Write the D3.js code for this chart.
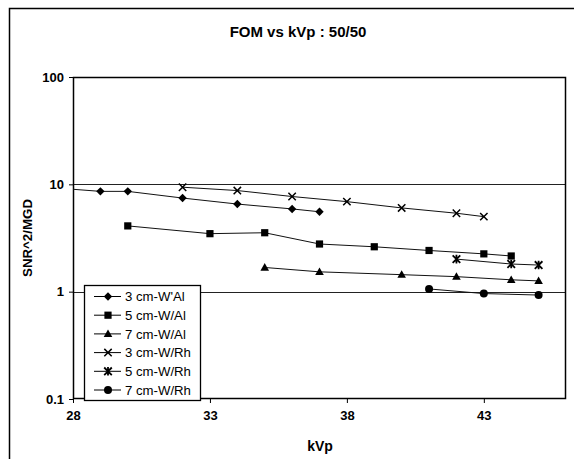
<!DOCTYPE html>
<html>
<head>
<meta charset="utf-8">
<script src="https://cdn.jsdelivr.net/npm/d3@7"></script>
<style>
  body { margin: 0; background: #fff; }
  svg { display: block; font-family: "Liberation Sans", Arial, sans-serif; }
</style>
</head>
<body>
<div id="chart"></div>
<script>
// Chart data
const chartTitle = "FOM vs kVp : 50/50";
const xLabel = "kVp";
const yLabel = "SNR^2/MGD";
const xTicks = [28, 33, 38, 43];
const yTicks = [0.1, 1, 10, 100];

const seriesNames = ["3 cm-W'Al", "5 cm-W/Al", "7 cm-W/Al", "3 cm-W/Rh", "5 cm-W/Rh", "7 cm-W/Rh"];
const seriesMarkers = ["diamond", "square", "triangle", "cross", "star", "circle"];

const kvp3Al = [27, 29, 30, 32, 34, 36, 37];
const fom3Al = [9.4, 8.6, 8.6, 7.45, 6.55, 5.9, 5.55];

const kvp5Al = [30, 33, 35, 37, 39, 41, 43, 44];
const fom5Al = [4.1, 3.47, 3.54, 2.78, 2.62, 2.42, 2.25, 2.15];

const kvp7Al = [35, 37, 40, 42, 44, 45];
const fom7Al = [1.68, 1.53, 1.44, 1.38, 1.29, 1.26];

const kvp3Rh = [32, 34, 36, 38, 40, 42, 43];
const fom3Rh = [9.4, 8.75, 7.7, 6.9, 6.03, 5.38, 5.0];

const kvp5Rh = [42, 44, 45];
const fom5Rh = [2.01, 1.81, 1.77];

const kvp7Rh = [41, 43, 45];
const fom7Rh = [1.06, 0.96, 0.93];

const seriesX = [kvp3Al, kvp5Al, kvp7Al, kvp3Rh, kvp5Rh, kvp7Rh];
const seriesY = [fom3Al, fom5Al, fom7Al, fom3Rh, fom5Rh, fom7Rh];

const width = 574, height = 459;
const margin = { top: 77, right: 8, bottom: 60, left: 73 };
const innerW = width - margin.left - margin.right;
const innerH = height - margin.top - margin.bottom;

const svg = d3.select("#chart").append("svg")
    .attr("width", width).attr("height", height);

// outer chart frame (runs off the right and bottom edges)
svg.append("path")
    .attr("d", `M9.5,${height + 2} V8.5 H${width + 2}`)
    .attr("fill", "none").attr("stroke", "#000").attr("stroke-width", 1.5);

svg.append("text")
    .attr("x", 298).attr("y", 37)
    .attr("text-anchor", "middle")
    .attr("font-weight", "bold").attr("font-size", 15)
    .text(chartTitle);

const x = d3.scaleLinear().domain([28, 46]).range([0, innerW]);
const y = d3.scaleLog().domain([0.1, 100]).range([innerH, 0]);

const g = svg.append("g").attr("transform", `translate(${margin.left},${margin.top})`);

g.append("clipPath").attr("id", "clip")
    .append("rect").attr("width", innerW).attr("height", innerH);

// gridlines at decades
g.selectAll(".grid").data([1, 10]).enter().append("line")
    .attr("x1", 0).attr("x2", innerW)
    .attr("y1", d => Math.round(y(d)) + 0.5).attr("y2", d => Math.round(y(d)) + 0.5)
    .attr("stroke", "#222").attr("stroke-width", 1.2);

// plot border
g.append("rect")
    .attr("x", 0.5).attr("y", 0.5).attr("width", innerW - 1).attr("height", innerH - 1)
    .attr("fill", "none").attr("stroke", "#000").attr("stroke-width", 1.5);

// axes
const xAxis = g.append("g").attr("transform", `translate(0,${innerH})`)
    .call(d3.axisBottom(x).tickValues(xTicks).tickSize(4).tickPadding(8).tickFormat(d3.format("d")));
const yAxis = g.append("g")
    .call(d3.axisLeft(y).tickValues(yTicks).tickSize(4).tickPadding(5).tickFormat(d => String(d)));
[xAxis, yAxis].forEach(a => {
    a.select(".domain").remove();
    a.selectAll("line").attr("stroke", "#000");
    a.selectAll("text").attr("font-size", 13).attr("font-weight", "bold")
        .attr("fill", "#000").attr("font-family", "Liberation Sans, Arial, sans-serif");
});

svg.append("text")
    .attr("x", 320).attr("y", 451)
    .attr("text-anchor", "middle").attr("font-weight", "bold").attr("font-size", 14)
    .text(xLabel);

svg.append("text")
    .attr("transform", `translate(32,${margin.top + innerH / 2}) rotate(-90)`)
    .attr("text-anchor", "middle").attr("font-weight", "bold").attr("font-size", 13.3)
    .text(yLabel);

// marker drawing
function drawMarker(sel, type) {
    if (type === "diamond") {
        sel.append("path").attr("d", "M0,-4.2L4.2,0L0,4.2L-4.2,0Z").attr("fill", "#000");
    } else if (type === "square") {
        sel.append("rect").attr("x", -3.6).attr("y", -3.6).attr("width", 7.2).attr("height", 7.2).attr("fill", "#000");
    } else if (type === "triangle") {
        sel.append("path").attr("d", "M0,-4.4L4.3,3.2L-4.3,3.2Z").attr("fill", "#000");
    } else if (type === "cross") {
        sel.append("path").attr("d", "M-3.7,-3.7L3.7,3.7M-3.7,3.7L3.7,-3.7")
            .attr("stroke", "#000").attr("stroke-width", 1.5);
    } else if (type === "star") {
        sel.append("path").attr("d", "M-3.8,-3.8L3.8,3.8M-3.8,3.8L3.8,-3.8M0,-4.3V4.3")
            .attr("stroke", "#000").attr("stroke-width", 1.8);
    } else if (type === "circle") {
        sel.append("circle").attr("r", 4).attr("fill", "#000");
    }
}

const line = d3.line().x(d => x(d[0])).y(d => y(d[1]));
const plot = g.append("g").attr("clip-path", "url(#clip)");

seriesNames.forEach((name, i) => {
    const pts = seriesX[i].map((v, j) => [v, seriesY[i][j]]);
    plot.append("path").datum(pts)
        .attr("fill", "none").attr("stroke", "#111").attr("stroke-width", 1)
        .attr("d", line);
    pts.forEach(p => {
        const m = plot.append("g").attr("transform", `translate(${x(p[0])},${y(p[1])})`);
        drawMarker(m, seriesMarkers[i]);
    });
});

// legend
const legend = svg.append("g").attr("transform", "translate(84,285)");
legend.append("rect")
    .attr("x", 0.5).attr("y", 0.5).attr("width", 116).attr("height", 115)
    .attr("fill", "#fff").attr("stroke", "#000").attr("stroke-width", 1.3);
seriesNames.forEach((name, i) => {
    const ly = 11.5 + i * 18.7;
    legend.append("line").attr("x1", 10).attr("x2", 37).attr("y1", ly).attr("y2", ly)
        .attr("stroke", "#000").attr("stroke-width", 1);
    drawMarker(legend.append("g").attr("transform", `translate(24,${ly})`), seriesMarkers[i]);
    legend.append("text").attr("x", 41).attr("y", ly + 4.7)
        .attr("font-size", 13.2).text(name);
});
</script>
</body>
</html>
